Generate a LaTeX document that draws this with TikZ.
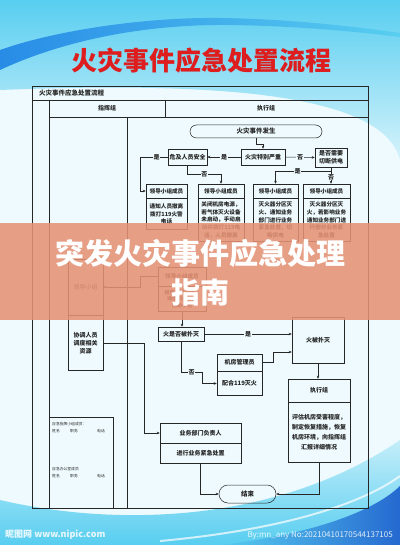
\documentclass[tikz,border=0pt]{standalone}
\usepackage{fontspec}
\setmainfont{Noto Sans CJK SC}
\usetikzlibrary{arrows.meta,positioning,calc}

\newcommand{\fsz}[2]{\fontsize{#1}{#2}\selectfont}

\definecolor{bgfill}{RGB}{238,250,253}
\definecolor{skycyan}{RGB}{88,206,240}
\definecolor{deepblue}{RGB}{24,80,200}
\definecolor{brightblue}{RGB}{40,140,230}
\definecolor{titlered}{RGB}{222,30,30}
\definecolor{bandsalmon}{RGB}{230,146,116}
\definecolor{inkgray}{RGB}{38,38,38}

\begin{document}
\begin{tikzpicture}[x=1pt, y=-1pt,
  cell/.style={draw=inkgray, line width=0.5pt, align=center, inner sep=0.5pt, text=inkgray, font=\bfseries\fsz{6}{8}},
  small/.style={cell, font=\bfseries\fsz{5.6}{7.8}},
  term/.style={cell, font=\bfseries\fsz{6.5}{8}},
  arr/.style={-{Stealth[length=3pt,width=2.6pt]}, line width=0.5pt, draw=inkgray},
  yn/.style={fill=bgfill, inner sep=0.6pt, text=inkgray, font=\bfseries\fsz{6}{6}},
  lane/.style={line width=0.7pt, draw=black!85},
  note/.style={text=inkgray, font=\fsz{3.8}{4.5}, anchor=west, inner sep=0pt},
  bigtxt/.style={text=white, font=\bfseries\fsz{29}{29}, inner sep=0pt}
]
\useasboundingbox (0,0) rectangle (400,545);

% background
\fill[bgfill] (0,0) rectangle (400,545);
\shade[top color=skycyan, bottom color=skycyan!25!white]
  (0,0) -- (400,0) -- (400,160) .. controls (385,100) and (250,80) .. (0,90) -- cycle;
\shade[left color=brightblue, middle color=deepblue, right color=skycyan]
  (0,70) .. controls (60,42) and (140,24) .. (230,25) .. controls (300,26) and (360,32) .. (400,37)
  -- (400,33) .. controls (350,26) and (290,19) .. (220,18) .. controls (140,17) and (50,32) .. (0,50) -- cycle;
\shade[top color=skycyan!35!white, bottom color=skycyan]
  (0,500) .. controls (120,528) and (280,522) .. (400,440) -- (400,545) -- (0,545) -- cycle;
\shade[left color=skycyan, right color=deepblue!80!skycyan]
  (220,545) .. controls (300,536) and (370,515) .. (400,486) -- (400,545) -- cycle;
\draw[white, line width=2pt, opacity=0.7] (160,541) .. controls (280,530) and (360,505) .. (400,476);

% title
\node[text=titlered, font=\bfseries\fsz{26}{26}, inner sep=0pt] (title) at (201,61) {火灾事件应急处置流程};

% frame
\draw[lane] (32,86) rectangle (368,508);
\draw[lane] (32,100) -- (368,100);
\draw[lane] (49,100) -- (49,508);
\draw[lane] (49,117) -- (368,117);
\draw[lane] (165,100) -- (165,117);
\draw[lane] (127,117) -- (127,508);
\draw[lane] (49,417) rectangle (113,508);

\node[text=inkgray, font=\bfseries\fsz{6.5}{7}, anchor=west, inner sep=0pt] (ftitle) at (39,93) {火灾事件应急处置流程};
\node[text=inkgray, font=\bfseries\fsz{6}{7}] (cmd) at (107,108.5) {指挥组};
\node[text=inkgray, font=\bfseries\fsz{6}{7}] (exe) at (266,108.5) {执行组};

% roster
\node[note] (rost1) at (52,424) {应急指挥小组成员：};
\node[note] (rost1a) at (52,431) {姓名};
\node[note] (rost1b) at (70,431) {职务};
\node[note] (rost1c) at (97,431) {电话};
\node[note] (rost2) at (52,469) {应急办公室成员};
\node[note] (rost2a) at (52,476) {姓名};
\node[note] (rost2b) at (70,476) {职务};
\node[note] (rost2c) at (97,476) {电话};

% command lane
\node[cell, font=\fsz{6}{8}, minimum width=35pt, minimum height=56pt] (lead) at (85.5,287) {领导小组};
\node[cell, minimum width=35pt, minimum height=55pt, below=0pt of lead] (coordres) {协调人员\\调度相关\\资源};

% execution lane
\node[term, rounded corners=6.5pt, minimum width=132pt, minimum height=13pt] (start) at (256,131.5) {火灾事件发生};
\node[cell, minimum width=44pt, minimum height=16pt] (severe) at (263,157) {火灾特别严重};
\node[cell, minimum width=39pt, minimum height=16pt] (danger) at (187.5,157) {危及人员安全};
\node[cell, minimum width=32pt, minimum height=19pt] (cut) at (331,157.5) {是否需要\\切断供电};

\node[small, minimum width=41pt, minimum height=14pt] (b1h) at (166.5,191) {领导小组成员};
\node[small, minimum width=41pt, minimum height=31pt, below=0pt of b1h] (b1b) {通知人员撤离\\拨打119火警\\电话};
\node[small, minimum width=46pt, minimum height=14pt] (b2h) at (221,191) {领导小组成员};
\node[small, minimum width=46pt, minimum height=43pt, below=0pt of b2h] (b2b) {关闭机房电源，\\若气体灭火设备\\未启动，手动启\\动并拨打119电\\话，人员撤离};
\node[small, minimum width=45pt, minimum height=14pt] (b3h) at (275.5,191) {领导小组成员};
\node[small, minimum width=45pt, minimum height=43pt, below=0pt of b3h] (b3b) {灭火器分区灭\\火、通知业务\\部门进行业务\\紧急处置、切\\断供电};
\node[small, minimum width=47pt, minimum height=14pt] (b4h) at (326.5,191) {领导小组成员};
\node[small, minimum width=47pt, minimum height=43pt, below=0pt of b4h] (b4b) {灭火器分区灭\\火，若影响业务\\通知业务部门进\\行部分业务紧\\急处置};

\node[small, minimum width=48pt, minimum height=19pt] (b5h) at (182,276.5) {领导小组成员};
\node[small, font=\bfseries\fsz{5}{6.8}, minimum width=48pt, minimum height=25pt, below=0pt of b5h] (b5b) {报告领导小组，\\通知相关部门\\后勤小组};

\node[cell, minimum width=46pt, minimum height=14pt] (ext) at (181,334) {火是否被扑灭};
\node[cell, minimum width=52pt, minimum height=46pt] (out) at (318,340) {火被扑灭};
\node[cell, minimum width=45pt, minimum height=17pt] (mgr) at (239.5,362.5) {机房管理员};
\node[cell, minimum width=45pt, minimum height=24pt, below=0pt of mgr] (cfb) {配合119灭火};
\node[cell, minimum width=62pt, minimum height=23pt] (eh) at (319,390.5) {执行组};
\node[cell, font=\bfseries\fsz{6}{10}, minimum width=62pt, minimum height=60pt, below=0pt of eh] (eb) {评估机房受害程度，\\制定恢复措施，恢复\\机房环境，向指挥组\\汇报详细情况};
\node[cell, minimum width=81pt, minimum height=20pt] (bizh) at (200.5,433) {业务部门负责人};
\node[cell, minimum width=81pt, minimum height=20pt, below=0pt of bizh] (bizb) {进行业务紧急处置};
\node[term, rounded corners=9pt, minimum width=57pt, minimum height=18pt] (endn) at (247.5,494) {结束};

% connectors
\draw[arr] (start.south) -- ++(0,6) -| (severe.north);
\draw[arr] (severe.west) -- node[yn]{是} (danger.east);
\draw[arr] (danger.west) -- ++(-28,0) node[yn, pos=0.4]{是} |- (b1h.west);
\draw[arr] (danger.south) -- ++(0,9) -| node[yn, pos=0.25]{否} (b2h.north);
\draw[arr] (severe.east) -- node[yn]{否} (cut.west);
\draw[arr] (cut.south) -- node[yn, pos=0.6]{否} (cut.south |- b4h.north);
\draw[arr] ($(cut.south)+(0,4)$) -| node[yn, pos=0.3]{是} (b3h.north);
\draw[arr] (b5h.west) -- ++(-18,0) |- (lead.east);
\draw[arr] (b5b.south) -- (b5b.south |- ext.north);
\draw[arr] (ext.east) -- node[yn]{是} (ext.east -| out.west);
\draw[arr] (out.south) -- (out.south |- eh.north);
\draw[arr] (ext.south) |- node[yn, pos=0.75]{否} ++(21,31) |- (cfb.west);
\draw[arr] (mgr.east) -- ++(11,0) |- ($(out.west)+(0,12)$);
\draw[arr] (coordres.east) -- ++(41,0) |- (bizh.west);
\draw[arr] (bizb.south) |- (endn.west);
\draw[arr] (eb.south) |- (endn.east);

% banner
\fill[bandsalmon, opacity=0.88] (0,223) rectangle (400,320);
\node[bigtxt] (band1) at (200,253) {突发火灾事件应急处理};
\node[bigtxt] (band2) at (200,292) {指南};

% watermark
\node[text=white, opacity=0.85, font=\bfseries\fsz{9}{9}, anchor=west, inner sep=0pt] (wmleft) at (5,535) {昵图网 www.nipic.com};
\node[text=white, opacity=0.85, font=\fsz{8}{8}, anchor=east, inner sep=0pt] (wmright) at (393,535) {By:mn\_any No:20210410170544137105};

\end{tikzpicture}
\end{document}
